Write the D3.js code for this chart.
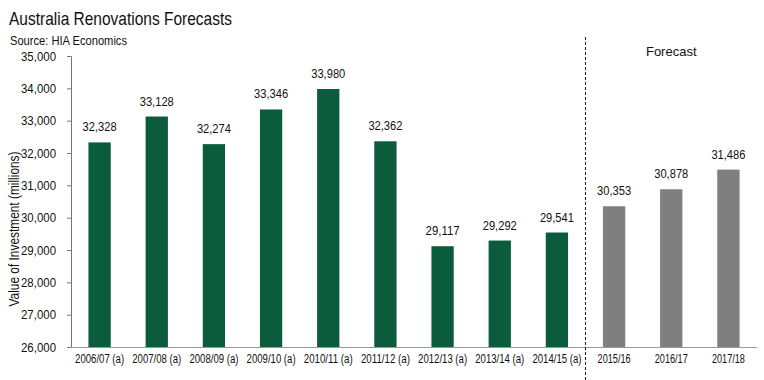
<!DOCTYPE html>
<html lang="en">
<head>
  <meta charset="UTF-8">
  <title>Australia Renovations Forecasts</title>
  <script src="https://d3js.org/d3.v7.min.js"></script>
  <style>
    body { margin: 0; background: #fff; font-family: "Liberation Sans", Arial, sans-serif; }
    svg text { fill: #111; }
  </style>
</head>
<body>
  <svg id="chart" width="764" height="380"></svg>
  <script>
    // Data
    const categories = ["2006/07 (a)", "2007/08 (a)", "2008/09 (a)", "2009/10 (a)", "2010/11 (a)",
                        "2011/12 (a)", "2012/13 (a)", "2013/14 (a)", "2014/15 (a)",
                        "2015/16", "2016/17", "2017/18"];
    const values = [32328, 33128, 32274, 33346, 33980, 32362, 29117, 29292, 29541, 30353, 30878, 31486];
    const isForecast = [false, false, false, false, false, false, false, false, false, true, true, true];
    const yTicks = [26000, 27000, 28000, 29000, 30000, 31000, 32000, 33000, 34000, 35000];

    const svg = d3.select("#chart");
    const margin = {top: 56, right: 7, bottom: 33, left: 71};
    const width = 764 - margin.left - margin.right;
    const height = 380 - margin.top - margin.bottom;

    const g = svg.append("g").attr("transform", `translate(${margin.left},${margin.top})`);

    const x = d3.scaleBand().domain(categories).range([0, width]).paddingInner(0.61).paddingOuter(0.305);
    const y = d3.scaleLinear().domain([26000, 35000]).range([height, 0]);

    // Title
    svg.append("text").attr("x", 9).attr("y", 25)
       .attr("font-size", 18.5).attr("textLength", 223).attr("lengthAdjust", "spacingAndGlyphs")
       .text("Australia Renovations Forecasts");
    svg.append("text").attr("x", 10).attr("y", 45)
       .attr("font-size", 12.5).attr("textLength", 117).attr("lengthAdjust", "spacingAndGlyphs")
       .text("Source: HIA Economics");

    // Y axis
    const yAxis = g.append("g")
       .call(d3.axisLeft(y).tickValues(yTicks).tickSize(4).tickPadding(11).tickFormat(d3.format(",")));
    yAxis.select(".domain").attr("stroke", "#777").attr("d", `M-4,0.5H0.5V${height}`);
    yAxis.selectAll(".tick line").attr("stroke", "#777");
    yAxis.selectAll(".tick text").attr("font-size", 13).attr("font-family", "Liberation Sans, Arial, sans-serif")
       .attr("fill", "#111").attr("textLength", 35).attr("lengthAdjust", "spacingAndGlyphs");

    // X axis
    const xAxis = g.append("g").attr("transform", `translate(0,${height})`)
       .call(d3.axisBottom(x).tickSize(0).tickPadding(7));
    xAxis.select(".domain").attr("stroke", "#999").attr("d", `M0,0.5H${width}`);
    xAxis.selectAll(".tick text").attr("font-size", 12).attr("font-family", "Liberation Sans, Arial, sans-serif")
       .attr("fill", "#111")
       .each(function(d) {
         d3.select(this).attr("textLength", d.length > 8 ? 49 : 33).attr("lengthAdjust", "spacingAndGlyphs");
       });

    // Y axis title
    svg.append("text")
       .attr("transform", `translate(19,229) rotate(-90)`)
       .attr("text-anchor", "middle").attr("font-size", 14)
       .attr("textLength", 155).attr("lengthAdjust", "spacingAndGlyphs")
       .text("Value of Investment (millions)");

    // Bars
    const data = categories.map((c, i) => ({cat: c, value: values[i], forecast: isForecast[i]}));
    g.selectAll(".bar").data(data).enter().append("rect")
       .attr("class", "bar")
       .attr("x", d => x(d.cat))
       .attr("width", x.bandwidth())
       .attr("y", d => y(d.value))
       .attr("height", d => height - y(d.value))
       .attr("fill", d => d.forecast ? "#7f7f7f" : "#0b5c3d");

    // Value labels
    g.selectAll(".val").data(data).enter().append("text")
       .attr("class", "val")
       .attr("x", d => x(d.cat) + x.bandwidth() / 2)
       .attr("y", d => y(d.value) - 11)
       .attr("text-anchor", "middle").attr("font-size", 12.5)
       .attr("textLength", 34).attr("lengthAdjust", "spacingAndGlyphs")
       .text(d => d3.format(",")(d.value));

    // Forecast divider
    const step = x.step();
    const divX = x(categories[9]) - (step - x.bandwidth()) / 2;
    g.append("line")
       .attr("x1", divX).attr("x2", divX)
       .attr("y1", 37 - margin.top).attr("y2", 380 - margin.top)
       .attr("stroke", "#222").attr("stroke-width", 1).attr("stroke-dasharray", "3,2");

    const fcCenter = (x(categories[9]) + x(categories[11]) + x.bandwidth()) / 2;
    g.append("text")
       .attr("x", fcCenter).attr("y", 0)
       .attr("text-anchor", "middle").attr("font-size", 13)
       .text("Forecast");
  </script>
</body>
</html>
